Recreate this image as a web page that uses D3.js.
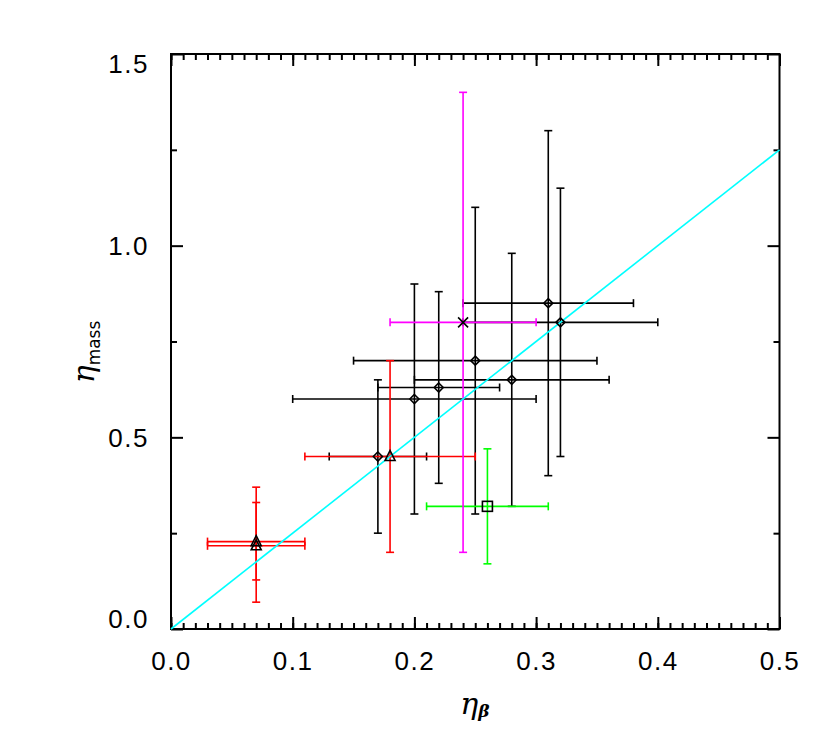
<!DOCTYPE html>
<html>
<head>
<meta charset="utf-8">
<script src="https://cdn.jsdelivr.net/npm/d3@7"></script>
<style>
  html, body { margin: 0; padding: 0; background: #fff; }
  svg { display: block; }
</style>
</head>
<body>
<svg id="chart" width="830" height="738"></svg>
<script>
// ---- data ----
const xTicks = [0.0, 0.1, 0.2, 0.3, 0.4, 0.5];
const yTicks = [0.0, 0.5, 1.0, 1.5];

// black diamonds
const diamondX   = [0.17, 0.20, 0.22, 0.25, 0.28, 0.31, 0.32];
const diamondY   = [0.45, 0.60, 0.63, 0.70, 0.65, 0.85, 0.80];
const diamondXlo = [0.13, 0.10, 0.17, 0.15, 0.20, 0.24, 0.24];
const diamondXhi = [0.21, 0.30, 0.27, 0.35, 0.36, 0.38, 0.40];
const diamondYlo = [0.25, 0.30, 0.38, 0.30, 0.32, 0.40, 0.45];
const diamondYhi = [0.65, 0.90, 0.88, 1.10, 0.98, 1.30, 1.15];

// red triangles
const triX   = [0.07, 0.07, 0.18];
const triY   = [0.228, 0.217, 0.45];
const triXlo = [0.03, 0.03, 0.11];
const triXhi = [0.11, 0.11, 0.25];
const triYlo = [0.07, 0.128, 0.20];
const triYhi = [0.37, 0.33, 0.70];

// green square
const sqX = [0.26], sqY = [0.32], sqXlo = [0.21], sqXhi = [0.31], sqYlo = [0.17], sqYhi = [0.47];

// magenta cross
const crX = [0.24], crY = [0.80], crXlo = [0.18], crXhi = [0.30], crYlo = [0.20], crYhi = [1.40];

// fitted line y = 2.5 x
const lineX = [0.0, 0.5];
const lineY = [0.0, 1.25];

// ---- layout ----
const svg = d3.select("#chart");
const L = 171, R = 779.5, T = 54, B = 629;
const x = d3.scaleLinear().domain([0, 0.5]).range([L, R]);
const y = d3.scaleLinear().domain([0, 1.5]).range([B, T]);

const fontTick = '"Liberation Sans", Arial, sans-serif';

function styleAxis(g, withText) {
  g.select(".domain").remove();
  g.selectAll(".tick line").attr("stroke", "#000").attr("stroke-width", 2);
  if (withText) {
    g.selectAll(".tick text")
      .attr("fill", "#000")
      .style("font-size", "26px")
      .style("letter-spacing", "1.5px")
      .style("font-family", fontTick);
  }
}

const xMinor = d3.range(0, 51).map(i => i / 100);
const yMinor = [0.25, 0.75, 1.25];

// bottom
svg.append("g").attr("transform", `translate(0,${B})`)
  .call(d3.axisBottom(x).tickValues(xMinor).tickSize(-6).tickFormat(""))
  .call(g => styleAxis(g, false));
svg.append("g").attr("transform", `translate(0,${B})`)
  .call(d3.axisBottom(x).tickValues(xTicks).tickSize(-12).tickPadding(23).tickFormat(d3.format(".1f")))
  .call(g => styleAxis(g, true));
// top
svg.append("g").attr("transform", `translate(0,${T})`)
  .call(d3.axisTop(x).tickValues(xMinor).tickSize(-6).tickFormat(""))
  .call(g => styleAxis(g, false));
svg.append("g").attr("transform", `translate(0,${T})`)
  .call(d3.axisTop(x).tickValues(xTicks).tickSize(-12).tickFormat(""))
  .call(g => styleAxis(g, false));
// left
svg.append("g").attr("transform", `translate(${L},0)`)
  .call(d3.axisLeft(y).tickValues(yMinor).tickSize(-6).tickFormat(""))
  .call(g => styleAxis(g, false));
svg.append("g").attr("transform", `translate(${L},0)`)
  .call(d3.axisLeft(y).tickValues(yTicks).tickSize(-12).tickPadding(22).tickFormat(d3.format(".1f")))
  .call(g => styleAxis(g, true))
  .call(g => g.selectAll(".tick text")
    .attr("dy", d => d === 0 ? "-0.05em" : d === 1.5 ? "0.7em" : "0.35em"));
// right
svg.append("g").attr("transform", `translate(${R},0)`)
  .call(d3.axisRight(y).tickValues(yMinor).tickSize(-6).tickFormat(""))
  .call(g => styleAxis(g, false));
svg.append("g").attr("transform", `translate(${R},0)`)
  .call(d3.axisRight(y).tickValues(yTicks).tickSize(-12).tickFormat(""))
  .call(g => styleAxis(g, false));

// frame
svg.append("rect").attr("x", L).attr("y", T).attr("width", R - L).attr("height", B - T)
  .attr("fill", "none").attr("stroke", "#000").attr("stroke-width", 2);

// ---- error bars ----
const CAP = 4;
function errorBars(X, Y, Xlo, Xhi, Ylo, Yhi, color) {
  const g = svg.append("g").attr("stroke", color).attr("stroke-width", 1.6).attr("fill", "none");
  X.forEach((xv, i) => {
    const yv = Y[i];
    g.append("line").attr("x1", x(Xlo[i])).attr("x2", x(Xhi[i])).attr("y1", y(yv)).attr("y2", y(yv));
    g.append("line").attr("x1", x(Xlo[i])).attr("x2", x(Xlo[i])).attr("y1", y(yv) - CAP).attr("y2", y(yv) + CAP);
    g.append("line").attr("x1", x(Xhi[i])).attr("x2", x(Xhi[i])).attr("y1", y(yv) - CAP).attr("y2", y(yv) + CAP);
    g.append("line").attr("x1", x(xv)).attr("x2", x(xv)).attr("y1", y(Ylo[i])).attr("y2", y(Yhi[i]));
    g.append("line").attr("x1", x(xv) - CAP).attr("x2", x(xv) + CAP).attr("y1", y(Ylo[i])).attr("y2", y(Ylo[i]));
    g.append("line").attr("x1", x(xv) - CAP).attr("x2", x(xv) + CAP).attr("y1", y(Yhi[i])).attr("y2", y(Yhi[i]));
  });
}
errorBars(diamondX, diamondY, diamondXlo, diamondXhi, diamondYlo, diamondYhi, "#000");
errorBars(triX, triY, triXlo, triXhi, triYlo, triYhi, "#ff0000");
errorBars(sqX, sqY, sqXlo, sqXhi, sqYlo, sqYhi, "#00ff00");
errorBars(crX, crY, crXlo, crXhi, crYlo, crYhi, "#ff00ff");

// fitted line
svg.append("path")
  .datum(lineX.map((v, i) => [v, lineY[i]]))
  .attr("d", d3.line().x(d => x(d[0])).y(d => y(d[1])))
  .attr("stroke", "#00ffff").attr("stroke-width", 1.6).attr("fill", "none");

// ---- markers ----
const mk = svg.append("g").attr("stroke", "#000").attr("stroke-width", 1.6).attr("fill", "none");
diamondX.forEach((xv, i) => {
  const cx = x(xv), cy = y(diamondY[i]), s = 4.5;
  mk.append("path").attr("d", `M${cx},${cy - s}L${cx + s},${cy}L${cx},${cy + s}L${cx - s},${cy}Z`);
});
triX.forEach((xv, i) => {
  const cx = x(xv), cy = y(triY[i]), s = 5;
  mk.append("path").attr("d", `M${cx},${cy - s - 1}L${cx + s},${cy + s - 1}L${cx - s},${cy + s - 1}Z`);
});
sqX.forEach((xv, i) => {
  const cx = x(xv), cy = y(sqY[i]), s = 5;
  mk.append("rect").attr("x", cx - s).attr("y", cy - s).attr("width", 2 * s).attr("height", 2 * s);
});
crX.forEach((xv, i) => {
  const cx = x(xv), cy = y(crY[i]), s = 5;
  mk.append("path").attr("d", `M${cx - s},${cy - s}L${cx + s},${cy + s}M${cx - s},${cy + s}L${cx + s},${cy - s}`);
});

// ---- axis titles ----
const xt = svg.append("text")
  .attr("x", 475).attr("y", 714)
  .attr("text-anchor", "middle")
  .style("font-family", '"DejaVu Serif", serif')
  .attr("fill", "#000");
xt.append("tspan").style("font-size", "30px").style("font-style", "italic").text("η");
xt.append("tspan").attr("dy", 3).style("font-size", "17px").style("font-weight", "bold").style("font-style", "italic").text("β");

const yt = svg.append("text")
  .attr("transform", "translate(94,352) rotate(-90)")
  .attr("text-anchor", "middle")
  .attr("fill", "#000");
yt.append("tspan").style("font-family", '"DejaVu Serif", serif').style("font-size", "30px").style("font-style", "italic").text("η");
yt.append("tspan").attr("dy", 6).style("font-family", '"DejaVu Sans", sans-serif').style("font-size", "17px").text("mass");
</script>
</body>
</html>
